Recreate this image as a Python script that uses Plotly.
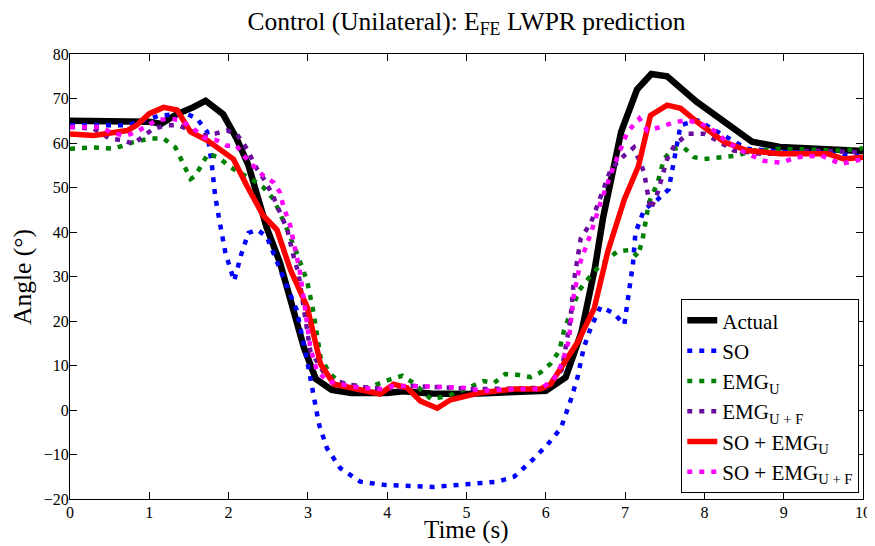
import plotly.graph_objects as go

# ---- data ----
t_actual = [0, 0.5, 1.0, 1.15, 1.35, 1.55, 1.71, 1.93, 2.1, 2.25, 2.48, 2.65, 2.8, 2.95, 3.1, 3.3, 3.55, 4.0, 4.2,
            4.55, 5.0, 5.5, 6.0, 6.25, 6.45, 6.62, 6.72, 6.95, 7.15, 7.33, 7.53, 7.9, 8.25, 8.6, 8.95, 9.4, 10]
y_actual = [65, 65, 64.8, 64.3, 66.5, 68, 69.5, 66.5, 61, 55, 41, 33, 23, 14, 7, 4.5, 3.8, 3.8, 4.2,
            3.7, 3.6, 3.8, 4.3, 7.3, 17.5, 32, 43, 62.5, 72, 75.5, 75, 69.3, 64.8, 60.3, 59.1, 58.6, 58.2]

t_so = [0, 0.72, 1.14, 1.47, 1.6, 1.73, 1.79, 1.83, 1.89, 1.96, 2.07, 2.16, 2.25, 2.36, 2.48, 2.69, 2.86, 2.99,
        3.07, 3.14, 3.24, 3.41, 3.66, 3.95, 4.58, 4.96, 5.39, 5.6, 5.81, 6.02, 6.19, 6.31, 6.4, 6.48, 6.57, 6.69,
        6.86, 6.99, 7.04, 7.1, 7.13, 7.24, 7.41, 7.55, 7.62, 7.7, 7.91, 8.25, 8.54, 9.0, 9.5, 10]
y_so = [64, 64, 66.2, 66.6, 65.5, 62.5, 54.9, 48.1, 42, 35.3, 29, 35, 39.8, 40.5, 39, 30, 22.4, 11.1,
        2.7, -3.2, -8.6, -13.1, -16.1, -16.8, -17.3, -16.8, -16.1, -15, -11.6, -7.8, -4.1, 2, 7.3, 14.1, 18.6, 23.2,
        21.7, 19.2, 25, 33, 39.8, 45, 47.3, 49.6, 56.4, 64, 65.1, 61.7, 58.7, 58, 57.8, 57]

t_emg_u = [0, 0.3, 0.55, 0.8, 1.01, 1.18, 1.33, 1.45, 1.52, 1.58, 1.66, 1.74, 1.87, 2.02, 2.12, 2.29, 2.44, 2.57,
           2.74, 2.86, 2.99, 3.07, 3.16, 3.28, 3.41, 3.75, 4.04, 4.19, 4.33, 4.55, 4.76, 5.05, 5.22, 5.35, 5.49,
           5.64, 5.81, 5.93, 6.06, 6.17, 6.23, 6.31, 6.42, 6.57, 6.69, 6.9, 7.07, 7.16, 7.22, 7.3, 7.41, 7.49, 7.6,
           7.74, 7.87, 7.99, 8.25, 8.42, 8.62, 8.96, 9.72, 10]
y_emg_u = [58.7, 59, 58.7, 60.2, 61, 61, 59, 54.5, 51.9, 52.6, 55.3, 57.6, 56.8, 54.6, 53.5, 51.9, 50, 47.3,
           40.5, 35.3, 29, 22, 11.8, 8.1, 6.1, 5, 6.9, 7.7, 6.1, 2.5, 3.1, 5.4, 6.5, 6.1, 8.1,
           7.9, 7.4, 8.4, 10.4, 13.3, 17.9, 21.7, 26.9, 30.3, 32.6, 35.6, 36, 34.5, 38.3, 46.6, 51.1, 56.4, 58.7,
           59, 56.8, 56.4, 56.8, 57.2, 58.3, 58.7, 58.3, 58.8]

t_emg_uf = [0, 0.3, 0.5, 0.67, 0.8, 0.92, 1.05, 1.22, 1.37, 1.52, 1.68, 1.83, 1.98, 2.1, 2.23, 2.36, 2.46, 2.57,
            2.65, 2.74, 2.82, 2.88, 3.03, 3.24, 3.49, 3.75, 4.0, 4.33, 4.8, 5.09, 5.5, 6.0, 6.2, 6.27, 6.31, 6.35,
            6.4, 6.44, 6.57, 6.82, 6.99, 7.11, 7.24, 7.32, 7.41, 7.53, 7.62, 7.79, 7.99, 8.16, 8.37, 8.71, 8.96,
            9.38, 9.8, 10]
y_emg_uf = [63.6, 63.2, 61, 60.6, 59.8, 61.3, 63.2, 64, 64, 62.8, 61.7, 62.1, 62.8, 62.1, 58.7, 54.1, 51.5, 47.7,
            44.3, 40.5, 34.5, 30.8, 13.3, 7.3, 5.8, 5, 4.7, 5.4, 5, 4.7, 4.8, 5, 9, 16.3, 20.1, 28.5,
            33.7, 38.5, 42.1, 54.1, 57.2, 59, 53.4, 45, 48.8, 56.4, 59.4, 62.1, 62.1, 60.6, 58.3, 57.6, 57.6,
            58.3, 58, 58]

t_so_emg_u = [0, 0.3, 0.72, 0.84, 1.0, 1.18, 1.35, 1.52, 1.73, 2.06, 2.23, 2.44, 2.61, 2.78, 2.99, 3.16, 3.33,
              3.54, 3.91, 4.08, 4.25, 4.42, 4.63, 4.8, 5.18, 5.6, 5.93, 6.06, 6.23, 6.4, 6.61, 6.78, 6.99, 7.17,
              7.32, 7.53, 7.7, 7.91, 8.25, 8.54, 8.96, 9.55, 9.76, 10]
y_so_emg_u = [62, 61.7, 62.8, 64, 66.6, 68, 67.4, 62.5, 60.6, 56.4, 50.4, 43.6, 40.5, 31.5, 23.2, 10.3, 5.8,
              5.0, 3.6, 5.8, 5.0, 2.0, 0.4, 2.3, 3.9, 4.7, 4.7, 5.8, 10.4, 15.2, 22.8, 35.5, 47.3, 54.9,
              66.2, 68.5, 67.8, 64.7, 60.2, 58.3, 57.6, 57.6, 56.4, 56.8]

t_so_emg_uf = [0, 0.38, 0.55, 0.72, 0.84, 0.97, 1.09, 1.26, 1.39, 1.56, 1.68, 1.85, 1.98, 2.1, 2.19, 2.31, 2.44,
               2.57, 2.65, 2.69, 2.78, 2.84, 2.9, 2.97, 3.03, 3.11, 3.24, 3.41, 3.66, 3.91, 4.08, 4.33, 4.8, 4.96,
               5.22, 5.6, 5.93, 6.1, 6.2, 6.29, 6.35, 6.44, 6.57, 6.69, 6.86, 7.03, 7.18, 7.28, 7.45, 7.62, 7.79,
               7.95, 8.12, 8.29, 8.5, 8.75, 8.96, 9.17, 9.47, 9.72, 10]
y_so_emg_uf = [63.6, 63.6, 62.1, 61.7, 62.5, 64, 65.1, 65.5, 65.1, 63.2, 61.3, 60.6, 59.4, 59.4, 57.2, 54.9, 52.6,
               51.1, 48.8, 45.8, 41.3, 36, 31, 22, 14, 9, 6.5, 5.8, 5, 4.7, 5.4, 5.4, 5, 5,
               4.3, 4.7, 4.7, 6.9, 10.3, 15.6, 25.4, 33.5, 39.8, 46.6, 54.9, 62.5, 65.5, 62.8, 63.6, 64.7, 65.1,
               64.4, 62.8, 60.2, 57.9, 56, 55.6, 56.8, 57.2, 55.3, 56.4]

series_names = ["Actual", "SO", "EMG<sub>U</sub>", "EMG<sub>U + F</sub>",
                "SO + EMG<sub>U</sub>", "SO + EMG<sub>U + F</sub>"]
x_ticks = list(range(0, 11))
y_ticks = list(range(-20, 81, 10))

FONT = "Liberation Serif"
DOT = "5px,7px"

styles = [
    dict(color="black", width=6.5, dash="solid"),
    dict(color="#0000ff", width=4.5, dash=DOT),
    dict(color="#008000", width=4.5, dash=DOT),
    dict(color="#6a0d9e", width=4.5, dash=DOT),
    dict(color="#ff0000", width=5.5, dash="solid"),
    dict(color="#ff00ff", width=4.5, dash=DOT),
]
data = [(t_actual, y_actual), (t_so, y_so), (t_emg_u, y_emg_u), (t_emg_uf, y_emg_uf),
        (t_so_emg_u, y_so_emg_u), (t_so_emg_uf, y_so_emg_uf)]

fig = go.Figure()
for (tx, ty), name, st in zip(data, series_names, styles):
    fig.add_trace(go.Scatter(x=tx, y=ty, mode="lines", name=name, line=st))

axis_common = dict(showline=True, linecolor="black", linewidth=1, mirror="ticks",
                   ticks="inside", ticklen=7, tickcolor="black", tickwidth=1,
                   showgrid=False, zeroline=False, automargin=False,
                   tickfont=dict(family=FONT, size=16, color="black"))

# the page body has an 8px default margin, so the figure is 8px smaller
# and its margins are shifted to place the plot where the reference has it
W, H = 867, 538
fig.update_layout(
    width=W, height=H,
    margin=dict(l=62, r=12, t=46, b=47),
    paper_bgcolor="white", plot_bgcolor="white",
    font=dict(family=FONT, color="black"),
    title=dict(text="Control (Unilateral): E<sub>FE</sub> LWPR prediction",
               xref="paper", x=0.5, xanchor="center",
               yref="container", y=1 - 13 / H, yanchor="middle",
               font=dict(family=FONT, size=25.5, color="black")),
    xaxis=dict(range=[0, 10], tickvals=x_ticks, ticklabelstandoff=-1, **axis_common),
    yaxis=dict(range=[-20, 80], tickvals=y_ticks, ticklabelstandoff=-3, **axis_common),
    legend=dict(x=0.9953, y=0.013, xanchor="right", yanchor="bottom",
                bgcolor="white", bordercolor="black", borderwidth=1,
                font=dict(family=FONT, size=21, color="black"),
                itemwidth=30, tracegroupgap=0),
    showlegend=True,
    annotations=[
        dict(text="Time (s)", xref="paper", yref="paper", x=0.5, y=-0.069,
             xanchor="center", yanchor="middle", showarrow=False,
             font=dict(family=FONT, size=25, color="black")),
        dict(text="Angle (°)", xref="paper", yref="paper", x=-0.06, y=0.5,
             xanchor="center", yanchor="middle", textangle=-90, showarrow=False,
             font=dict(family=FONT, size=25.5, color="black")),
    ],
)

fig.write_html("out.html")
